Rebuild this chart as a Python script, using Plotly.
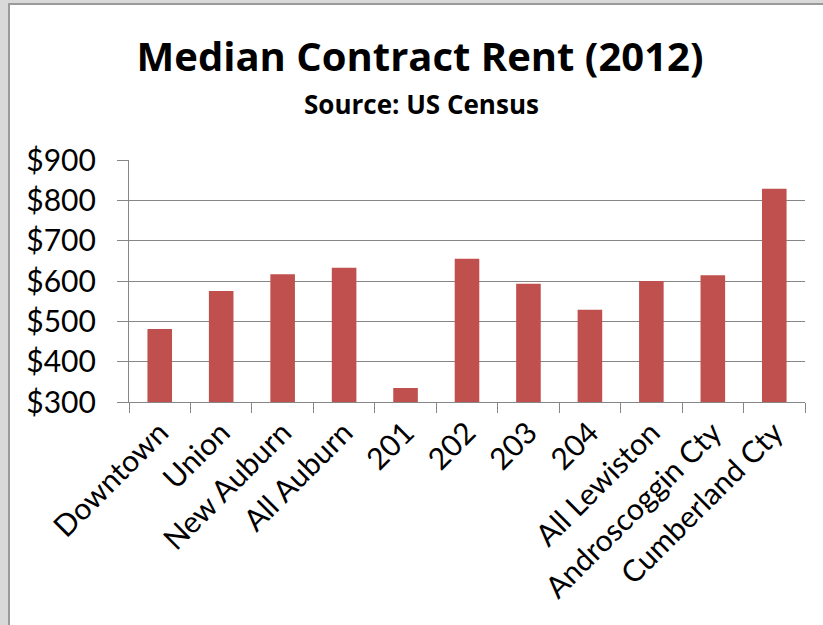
import plotly.graph_objects as go

categories = ["Downtown", "Union", "New Auburn", "All Auburn", "201", "202", "203",
              "204", "All Lewiston", "Androscoggin Cty", "Cumberland Cty"]
rent = [481, 575, 617, 633, 335, 655, 593, 529, 600, 614, 829]
y_ticks = [300, 400, 500, 600, 700, 800, 900]
y_tick_labels = ["$" + str(v) for v in y_ticks]

W, H = 823, 625
L, R, T, B = 129, 18, 160, 223
pw, ph = W - L - R, H - T - B

def px_x(p):
    return (p - L) / pw

def px_y(p):
    return (H - B - p) / ph

FONT = "Lato, Calibri, 'Open Sans', sans-serif"
TFONT = "'Open Sans', Lato, sans-serif"
GRID = "#868686"

fig = go.Figure(go.Bar(
    x=categories, y=rent,
    marker=dict(color="#C0504D", line=dict(width=0)),
))

fig.update_layout(
    width=W, height=H,
    margin=dict(l=L, r=R, t=T, b=B, pad=0, autoexpand=False),
    paper_bgcolor="white", plot_bgcolor="white",
    bargap=0.6,
    showlegend=False,
    font=dict(family=FONT, color="black"),
    title=dict(text="<b>Median Contract Rent (2012)</b>", x=420 / W, xanchor="center",
               y=1 - 57 / H, yanchor="middle", yref="container",
               font=dict(size=40, family=TFONT, color="black")),
    annotations=[dict(text="<b>Source: US Census</b>", x=px_x(421), y=px_y(104),
                      xref="paper", yref="paper", xanchor="center", yanchor="middle",
                      showarrow=False, font=dict(size=26, family=TFONT, color="black"))],
    xaxis=dict(type="category", tickangle=-45, tickfont=dict(size=30, family=FONT),
               automargin=False,
               showline=True, linecolor=GRID, linewidth=1.3,
               ticks="outside", ticklen=10, tickcolor=GRID, tickwidth=1.3,
               tickson="boundaries", showgrid=False),
    yaxis=dict(range=[300, 900], tickvals=y_ticks, ticktext=y_tick_labels,
               tickfont=dict(size=30, family=FONT), automargin=False,
               showline=True, linecolor=GRID, linewidth=1.3,
               ticks="outside", ticklen=11, tickcolor=GRID, tickwidth=1.3,
               showgrid=True, gridcolor=GRID, gridwidth=1.3,
               ticklabelstandoff=15, zeroline=False),
    shapes=[
        dict(type="rect", xref="paper", yref="paper", x0=px_x(0), x1=px_x(8),
             y0=px_y(H), y1=px_y(0), fillcolor="#d9d9d9", line=dict(width=0), layer="below"),
        dict(type="rect", xref="paper", yref="paper", x0=px_x(0), x1=px_x(W),
             y0=px_y(3), y1=px_y(0), fillcolor="#d9d9d9", line=dict(width=0), layer="below"),
        dict(type="rect", xref="paper", yref="paper", x0=px_x(8), x1=px_x(10),
             y0=px_y(H), y1=px_y(3), fillcolor="#9a9a9a", line=dict(width=0), layer="below"),
        dict(type="rect", xref="paper", yref="paper", x0=px_x(8), x1=px_x(W),
             y0=px_y(5), y1=px_y(3), fillcolor="#9a9a9a", line=dict(width=0), layer="below"),
    ],
)

fig.write_html("out.html", config={"displayModeBar": False},
               post_script="document.body.style.margin='0';")
